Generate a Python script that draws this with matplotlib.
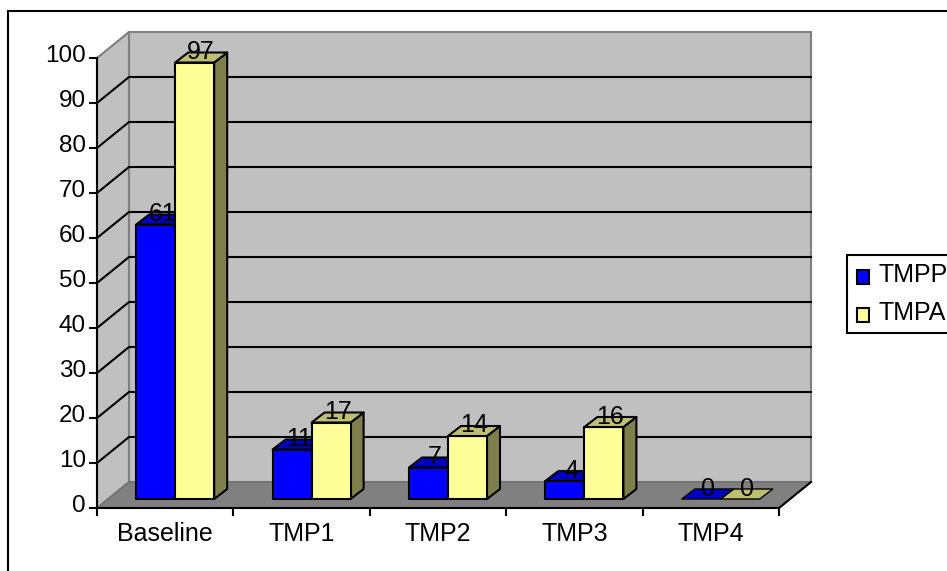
import matplotlib
matplotlib.use("Agg")
import matplotlib.pyplot as plt
from matplotlib.legend_handler import HandlerPatch
from matplotlib.patches import Polygon, Rectangle
from matplotlib.transforms import ScaledTranslation

categories = ["Baseline", "TMP1", "TMP2", "TMP3", "TMP4"]
tmpp = [61, 11, 7, 4, 0]
tmpa = [97, 17, 14, 16, 0]
y_ticks = [0, 10, 20, 30, 40, 50, 60, 70, 80, 90, 100]

W, H = 947, 571
X_UNIT = 136.4  # pixels per category
Y_UNIT = 4.5    # pixels per value

# oblique offsets, in pixels
WALL_DX, WALL_DY = 32 / X_UNIT, 26 / Y_UNIT
BAR_DX, BAR_DY = 13 / X_UNIT, 10 / Y_UNIT
FRONT_DX, FRONT_DY = 10 / X_UNIT, 9 / Y_UNIT
BAR_W = 39 / X_UNIT
LABEL_DROP = 1.5 / Y_UNIT

plt.rcParams["font.family"] = ["Liberation Sans", "DejaVu Sans"]
FS = 18

fig = plt.figure(figsize=(W / 100, H / 100), dpi=100)
ax = fig.add_axes([97 / W, (H - 508) / H, 682 / W, 450 / H])
ax.set_xlim(-0.5, 4.5)
ax.set_ylim(0, 100)
ax.patch.set_visible(False)
for side in ["top", "right"]:
    ax.spines[side].set_visible(False)
for side in ["left", "bottom"]:
    ax.spines[side].set_linewidth(1.5)
    ax.spines[side].set_zorder(6)

# outer chart frame, runs off the picture on the right and bottom
fig.add_artist(Rectangle((8 / W, -0.1), 1.1, (H - 11) / H + 0.1, transform=fig.transFigure,
                         fill=False, edgecolor="black", linewidth=1.5))

x0, x1 = -0.5, 4.5
top = y_ticks[-1]

# walls and floor
ax.add_patch(Polygon([(x0 + WALL_DX, WALL_DY), (x1 + WALL_DX, WALL_DY),
                      (x1 + WALL_DX, top + WALL_DY), (x0 + WALL_DX, top + WALL_DY)],
                     facecolor="#C0C0C0", edgecolor="#808080", linewidth=1.5, clip_on=False, zorder=1))
ax.add_patch(Polygon([(x0, 0), (x0 + WALL_DX, WALL_DY), (x0 + WALL_DX, top + WALL_DY), (x0, top)],
                     facecolor="#C0C0C0", edgecolor="#808080", linewidth=1.5, clip_on=False, zorder=1))
ax.add_patch(Polygon([(x0, 0), (x1, 0), (x1 + WALL_DX, WALL_DY), (x0 + WALL_DX, WALL_DY)],
                     facecolor="#808080", edgecolor="#707070", linewidth=1, clip_on=False, zorder=1))
ax.plot([x1, x1 + WALL_DX], [0, WALL_DY], color="black", lw=1.5, clip_on=False, zorder=2)

# gridlines on back and side wall
for v in y_ticks[1:-1]:
    ax.plot([x0, x0 + WALL_DX, x1 + WALL_DX], [v, v + WALL_DY, v + WALL_DY],
            color="black", lw=1.5, clip_on=False, zorder=2, solid_joinstyle="miter")


def draw_bar(left, value, front, top_col, side_col, z):
    bx = left + FRONT_DX
    b = FRONT_DY
    t = value + FRONT_DY
    r = bx + BAR_W
    ec = dict(edgecolor="black", linewidth=1.5, clip_on=False, zorder=z, joinstyle="round")
    if value > 0:
        ax.add_patch(Polygon([(r, b), (r + BAR_DX, b + BAR_DY), (r + BAR_DX, t + BAR_DY), (r, t)],
                             facecolor=side_col, **ec))
        ax.add_patch(Polygon([(bx, b), (r, b), (r, t), (bx, t)], facecolor=front, **ec))
    else:
        ec["linewidth"] = 1
    ax.add_patch(Polygon([(bx, t), (r, t), (r + BAR_DX, t + BAR_DY), (bx + BAR_DX, t + BAR_DY)],
                         facecolor=top_col, **ec))
    ax.text(bx + BAR_W / 2 + BAR_DX / 2, t + BAR_DY / 2 - LABEL_DROP, str(value), ha="center",
            va="baseline", fontsize=FS, color="black", zorder=10, clip_on=False)


for i, (p, a) in enumerate(zip(tmpp, tmpa)):
    draw_bar(i - BAR_W, p, "#0000FF", "#0000BF", "#00007F", 3 + i * 0.1)
    draw_bar(i, a, "#FFFF99", "#BFBF73", "#7F7F4C", 4 + i * 0.1)

# axes ticks
ax.set_yticks(y_ticks)
ax.set_xticks([i - 0.5 for i in range(len(categories) + 1)])
ax.set_xticklabels([])
ax.set_xticks(range(len(categories)), minor=True)
ax.set_xticklabels(categories, minor=True)
ax.tick_params(axis="y", length=6, width=1.5, pad=2, labelsize=17.5)
ax.tick_params(axis="x", which="major", length=6, width=1.5)
ax.tick_params(axis="x", which="minor", length=0, pad=10, labelsize=FS)

# value labels sit a few pixels above their ticks
up = ScaledTranslation(0, 4.5 / 100, fig.dpi_scale_trans)
for lab in ax.get_yticklabels():
    lab.set_transform(lab.get_transform() + up)


# the legend keys sit a little below the text baseline
def low_key(legend, orig_handle, xdescent, ydescent, width, height, fontsize):
    return Rectangle((-xdescent + 1.5, -ydescent - 3), width, height)


handles = [Rectangle((0, 0), 1, 1, facecolor="#0000FF", edgecolor="black", linewidth=1.5),
           Rectangle((0, 0), 1, 1, facecolor="#FFFF99", edgecolor="black", linewidth=1.5)]
# legend runs past the right edge of the picture
leg = fig.legend(handles, ["TMPP", "TMPA"], loc="upper left", bbox_to_anchor=(847 / W, (H - 255) / H),
                 fontsize=FS, frameon=True, fancybox=False, edgecolor="black", framealpha=1,
                 handlelength=0.5, handleheight=0.5, handletextpad=0.45, labelspacing=0.58,
                 borderpad=0.3, borderaxespad=0,
                 handler_map={Rectangle: HandlerPatch(patch_func=low_key)})
leg.get_frame().set_linewidth(1.5)

fig.savefig("out.png", dpi=100)
